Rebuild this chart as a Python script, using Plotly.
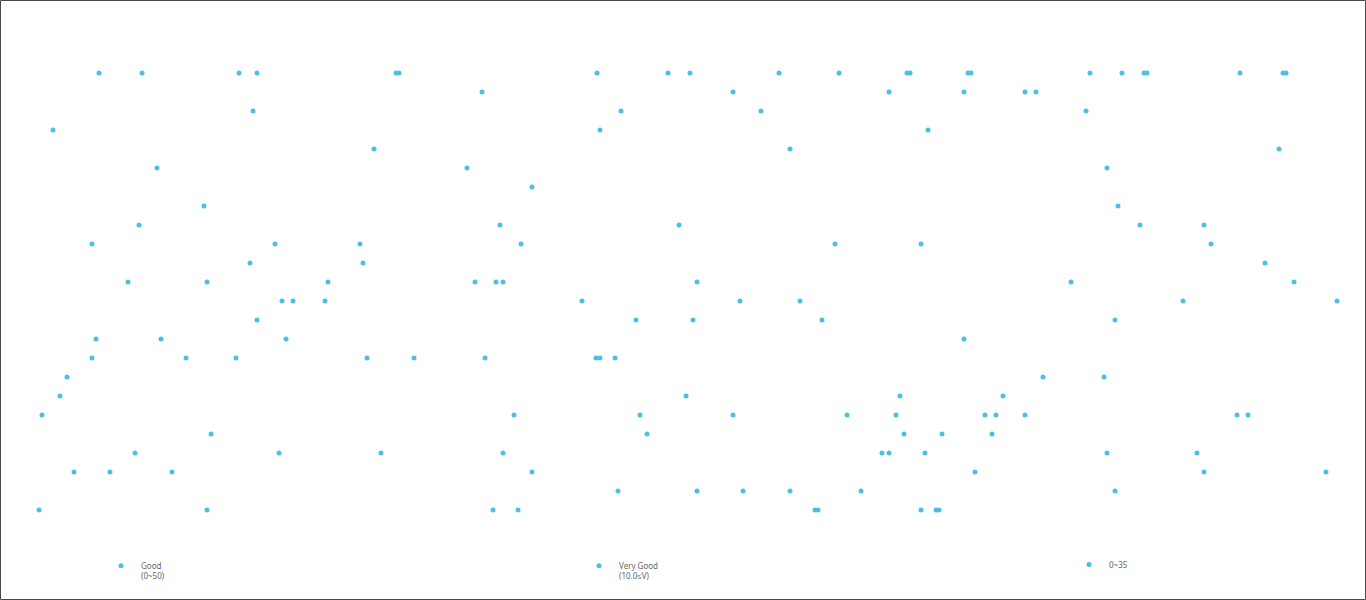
import plotly.graph_objects as go

# Series: x position (time index) and level value
good_x = [39, 42, 53, 60, 67, 74, 92, 92, 96, 99, 110, 128, 135, 139, 142, 157, 161, 172, 186, 204,
          207, 207, 211, 236, 239, 250, 253, 257, 257, 275, 279, 282, 286, 293, 325, 328, 360, 363, 367, 374,
          381, 396, 399, 414]
good_y = [0, 5, 20, 6, 7, 2, 14, 8, 9, 23, 2, 12, 3, 15, 23, 18, 9, 2, 8, 16,
          12, 0, 4, 8, 23, 13, 21, 23, 10, 14, 3, 11, 9, 11, 11, 12, 14, 13, 8, 19,
          3, 23, 23, 8]

vgood_x = [467, 475, 482, 485, 493, 496, 500, 503, 503, 514, 518, 521, 532, 532, 582, 596, 597, 600, 600, 615,
           618, 621, 636, 640, 647, 668, 679, 686, 690, 693, 697, 697, 733, 733, 740, 743, 761, 779, 790, 790,
           800, 815, 818, 822, 835, 839, 847, 861, 882, 889, 889, 896, 900, 904, 907]
vgood_y = [18, 12, 22, 8, 0, 12, 15, 12, 3, 5, 0, 14, 17, 2, 11, 8, 23, 20, 8, 8,
           1, 21, 10, 5, 4, 23, 15, 6, 23, 10, 12, 1, 22, 5, 11, 1, 21, 23, 19, 1,
           11, 0, 0, 10, 14, 23, 5, 1, 3, 22, 3, 5, 6, 4, 23]

r35_x = [910, 921, 921, 925, 928, 936, 939, 942, 964, 964, 968, 971, 975, 985, 992, 996, 1003, 1025, 1025, 1036,
         1043, 1071, 1086, 1090, 1104, 1107, 1107, 1115, 1115, 1118, 1122, 1140, 1144, 1147, 1183, 1197, 1204, 1204, 1211, 1237,
         1240, 1248, 1265, 1279, 1283, 1286, 1294, 1326, 1337]
r35_y = [23, 14, 0, 3, 20, 0, 0, 4, 22, 9, 23, 23, 2, 5, 4, 5, 6, 22, 5, 22,
         7, 12, 21, 23, 7, 18, 3, 10, 1, 16, 23, 15, 23, 23, 11, 3, 15, 2, 14, 5,
         23, 5, 13, 19, 23, 23, 12, 2, 11]

names = ["Good<br>(0~50)", "Very Good<br>(10.0≤V)", "0~35"]

COLOR = "#4CBFE6"
W, H = 1366, 600
MT, MB = 54, 71
PH = H - MT - MB

fig = go.Figure()
series = [(good_x, good_y), (vgood_x, vgood_y), (r35_x, r35_y)]
legend_ids = ["legend", "legend2", "legend3"]
for (xs, ys), nm, lg in zip(series, names, legend_ids):
    fig.add_trace(go.Scatter(x=xs, y=ys, mode="markers", name=nm, legend=lg,
                             marker=dict(color=COLOR, size=5, line=dict(width=0))))

def px_to_paper_y(py):
    return (H - MB - py) / PH

leg_common = dict(orientation="h", yanchor="top", xanchor="left",
                  font=dict(family="Noto Sans, sans-serif", size=8, color="#666666"),
                  bgcolor="rgba(0,0,0,0)", itemwidth=30, tracegroupgap=0)
fig.update_layout(
    width=W, height=H,
    margin=dict(l=0, r=0, t=MT, b=MB, pad=0),
    paper_bgcolor="white", plot_bgcolor="white",
    xaxis=dict(range=[0, W], visible=False, showgrid=False, zeroline=False),
    yaxis=dict(range=[-1, 24], visible=False, showgrid=False, zeroline=False),
    showlegend=True,
    legend=dict(x=101 / W, y=px_to_paper_y(554), valign="top", **leg_common),
    legend2=dict(x=579 / W, y=px_to_paper_y(554), valign="top", **leg_common),
    legend3=dict(x=1069 / W, y=px_to_paper_y(550), valign="middle", **leg_common),
    shapes=[dict(type="rect", xref="paper", yref="paper",
                 x0=0.5 / W, x1=1 - 0.5 / W,
                 y0=px_to_paper_y(H - 0.5), y1=px_to_paper_y(0.5),
                 line=dict(color="#4a4a4a", width=1), fillcolor="rgba(0,0,0,0)", layer="above")],
)

fig.write_html("out.html", config={"displayModeBar": False},
               post_script="document.body.style.margin='0';document.body.style.overflow='hidden';")
